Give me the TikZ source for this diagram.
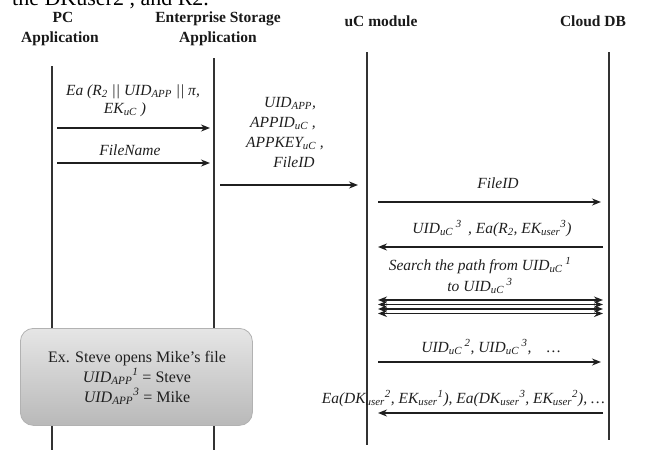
\documentclass[tikz,border=0pt]{standalone}
\usepackage{fontspec}
\setmainfont{Liberation Serif}
\usetikzlibrary{arrows.meta}
\newcommand{\lsub}[1]{\textsubscript{#1}}
\newcommand{\lsup}[1]{\textsuperscript{#1}}
\tikzset{
  life/.style={line width=2.2pt, black!80},
  msg/.style={line width=1.8pt, black!88, -{Stealth[length=9pt,width=7pt]}},
  twoway/.style={line width=1.6pt, black!88, {Stealth[length=9pt,width=7pt]}-{Stealth[length=9pt,width=7pt]}},
  lbl/.style={font=\fontsize{15.5}{18}\selectfont\itshape, text=black!88, inner sep=0pt, anchor=base},
  head/.style={font=\fontsize{15.5}{18}\selectfont\bfseries, text=black!90, inner sep=0pt, anchor=base},
  notebox/.style={draw=gray!60, line width=0.8pt, rounded corners=13pt, top color=gray!20, bottom color=gray!55},
  note/.style={font=\fontsize{16}{19}\selectfont, text=black!88, inner sep=0pt, anchor=base},
}
\begin{document}
\begin{tikzpicture}[x=1pt,y=-1pt]
\useasboundingbox (0,0) rectangle (672,450);
\clip (0,0) rectangle (672,450);

% running text of the page above the figure
\node[font=\fontsize{22}{24}\selectfont, inner sep=0pt, anchor=base west] (runtext) at (12,5) {the DKuser2 , and R2.};

% participants
\node[head] (pcA) at (63,22) {PC};
\node[head] (pcB) at (60,42) {Application};
\node[head] (esA) at (218,22) {Enterprise Storage};
\node[head] (esB) at (218,42) {Application};
\node[head] (uc) at (381,26) {uC module};
\node[head] (db) at (593,26) {Cloud DB};

% lifelines
\coordinate (pcTop) at (52,66);  \coordinate (pcBot) at (52,450);
\coordinate (esTop) at (214,58); \coordinate (esBot) at (214,450);
\coordinate (ucTop) at (367,52); \coordinate (ucBot) at (367,445);
\coordinate (dbTop) at (609,52); \coordinate (dbBot) at (609,440);
\draw[life] (pcTop) -- (pcBot);
\draw[life] (esTop) -- (esBot);
\draw[life] (ucTop) -- (ucBot);
\draw[life] (dbTop) -- (dbBot);

% PC -> Enterprise Storage
\node[lbl] (l1a) at (133,95) {Ea (R\lsub{2} || UID\lsub{APP} || π,};
\node[lbl] (l1b) at (125,113) {EK\lsub{uC} )};
\coordinate (a1s) at (57,128);  \coordinate (a1e) at (210,128);
\draw[msg] (a1s) -- (a1e);
\node[lbl] (l2) at (130,155) {FileName};
\coordinate (a2s) at (57,163);  \coordinate (a2e) at (210,163);
\draw[msg] (a2s) -- (a2e);

% Enterprise Storage -> uC module
\node[lbl] (l3a) at (290,107) {UID\lsub{APP},};
\node[lbl] (l3b) at (283,127) {APPID\lsub{uC} ,};
\node[lbl] (l3c) at (285,147) {APPKEY\lsub{uC} ,};
\node[lbl] (l3d) at (294,167) {FileID};
\coordinate (a3s) at (220,185); \coordinate (a3e) at (358,185);
\draw[msg] (a3s) -- (a3e);

% uC module <-> Cloud DB
\node[lbl] (l4) at (498,188) {FileID};
\coordinate (a4s) at (378,202); \coordinate (a4e) at (601,202);
\draw[msg] (a4s) -- (a4e);

\node[lbl] (l5) at (492,233) {UID\lsub{uC}\,\lsup{3} \,, Ea(R\lsub{2}, EK\lsub{user}\lsup{3})};
\coordinate (a5s) at (603,247); \coordinate (a5e) at (378,247);
\draw[msg] (a5s) -- (a5e);

\node[lbl] (l6a) at (480,270) {Search the path from UID\lsub{uC}\,\lsup{1}};
\node[lbl] (l6b) at (480,291) {to UID\lsub{uC}\,\lsup{3}};
\foreach \k/\y in {1/300,2/304.5,3/309,4/313.5}{
  \coordinate (p\k s) at (378,\y); \coordinate (p\k e) at (603,\y);
  \draw[twoway] (p\k s) -- (p\k e);
}

\node[lbl] (l7) at (491,352) {UID\lsub{uC}\,\lsup{2}, UID\lsub{uC}\,\lsup{3},\quad …};
\coordinate (a7s) at (378,362); \coordinate (a7e) at (601,362);
\draw[msg] (a7s) -- (a7e);

\node[lbl, anchor=base east] (l8) at (605,403) {Ea(DK\lsub{user}\lsup{2}, EK\lsub{user}\lsup{1}), Ea(DK\lsub{user}\lsup{3}, EK\lsub{user}\lsup{2}), …};
\coordinate (a8s) at (603,413); \coordinate (a8e) at (378,413);
\draw[msg] (a8s) -- (a8e);

% example note over the two application lifelines
\node[notebox, minimum width=232pt, minimum height=97pt, anchor=north west, inner sep=0pt] (box) at (20,328) {};
\node[note] (n1) at (137,362) {Ex. Steve opens Mike’s file};
\node[note] (n2) at (137,382) {\textit{UID\lsub{APP}\lsup{1}} = Steve};
\node[note] (n3) at (137,402) {\textit{UID\lsub{APP}\lsup{3}} = Mike};
\end{tikzpicture}
\end{document}
